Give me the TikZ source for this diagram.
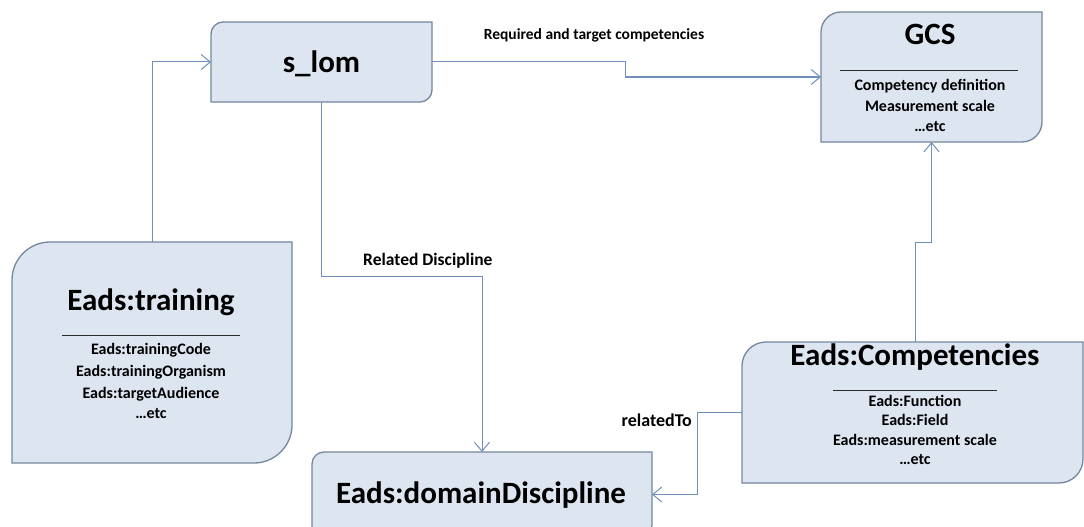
\documentclass[tikz,border=0pt]{standalone}
\usepackage{fontspec}
\setmainfont{Carlito}
\usetikzlibrary{arrows.meta,calc}
\definecolor{boxfill}{HTML}{DCE5F0}
\definecolor{boxline}{HTML}{74879E}
\definecolor{connline}{HTML}{6F90B8}
\definecolor{sepline}{HTML}{2B2B2B}
\newcommand\cornerbox[3]{%
  \path[boxshape] let \p1=(#1.north west), \p2=(#1.south east) in
    (\x1,\y1-#2) .. controls (\x1,\y1-0.45*#2) and (\x1+0.45*#2,\y1) .. (\x1+#2,\y1)
    -- (\x2,\y1) -- (\x2,\y2+#3) .. controls (\x2,\y2+0.45*#3) and (\x2-0.45*#3,\y2) .. (\x2-#3,\y2)
    -- (\x1,\y2) -- cycle;}
\tikzset{
  boxnode/.style={rectangle, draw=none, inner sep=0pt, outer sep=0pt},
  boxshape/.style={fill=boxfill, draw=boxline, line width=1.3pt},
  titletext/.style={inner sep=0pt, anchor=base, font=\fontsize{31}{31}\selectfont\bfseries},
  itemtext/.style={inner sep=0pt, anchor=base, font=\fontsize{16}{18}\selectfont\bfseries},
  labeltext/.style={inner sep=0pt, font=\fontsize{16}{18}\selectfont\bfseries},
  sepstyle/.style={draw=sepline, line width=1pt},
  conn/.style={draw=connline, line width=1pt, -{Straight Barb[length=9pt,width=15pt]}},
}
\begin{document}
\begin{tikzpicture}[x=1pt,y=-1pt]
\useasboundingbox (0,0) rectangle (1084,527);
\clip (0,0) rectangle (1084,527);
% box anchors
\node[boxnode, minimum width=221pt, minimum height=80pt] (slom) at (321.5,62) {};
\node[boxnode, minimum width=221pt, minimum height=130pt] (gcs) at (931.5,77) {};
\node[boxnode, minimum width=280pt, minimum height=221pt] (training) at (152,352.5) {};
\node[boxnode, minimum width=340pt, minimum height=85pt] (domain) at (482,494.5) {};
\node[boxnode, minimum width=341pt, minimum height=141pt] (comp) at (912.5,412.5) {};
% box shapes
\cornerbox{slom}{12pt}{12pt}
\cornerbox{gcs}{20pt}{20pt}
\cornerbox{training}{38pt}{38pt}
\cornerbox{domain}{12pt}{12pt}
\cornerbox{comp}{24pt}{24pt}
% titles
\node[titletext] (slomt) at (321.5,72) {s\_lom};
\node[titletext] (gcst) at (930,45) {GCS};
\node[titletext] (trt) at (151,310) {Eads:training};
\node[titletext] (compt) at (915,365) {Eads:Competencies};
\node[titletext] (domt) at (481,503) {Eads:domainDiscipline};
% separators
\draw[sepstyle] (840,71) -- (1018,71);
\draw[sepstyle] (62,335) -- (240,335);
\draw[sepstyle] (833,390) -- (997,390);
% items
\foreach \t/\y [count=\i] in {Competency definition/91, Measurement scale/111, …etc/131}
  \node[itemtext] (gcsi\i) at (930,\y) {\t};
\foreach \t/\y [count=\i] in {Eads:trainingCode/354, Eads:trainingOrganism/376, Eads:targetAudience/398, …etc/418}
  \node[itemtext] (tri\i) at (151,\y) {\t};
\foreach \t/\y [count=\i] in {Eads:Function/406, Eads:Field/425, Eads:measurement scale/445, …etc/464}
  \node[itemtext] (compi\i) at (915,\y) {\t};
% connectors
\draw[conn] (training.north) |- (slom.west);
\draw[conn] (slom.east) -- ++(193,0) |- (gcs.west);
\draw[conn] (slom.south) -- ++(0,174) -| (domain.north);
\draw[conn] (comp.west) -- ++(-45,0) |- (domain.east);
\draw[conn] ([xshift=2.5pt]comp.north) -- ++(0,-100) -| (gcs.south);
% labels
\node[labeltext, anchor=base] (lreq) at (594,40) {\fontsize{15.5}{18}\selectfont Required and target competencies};
\node[labeltext, anchor=base west] (lrel) at (363,265) {\fontsize{17.5}{18}\selectfont Related Discipline};
\node[labeltext, anchor=base east] (lrto) at (692,426) {\fontsize{18}{18}\selectfont relatedTo};
\end{tikzpicture}
\end{document}
